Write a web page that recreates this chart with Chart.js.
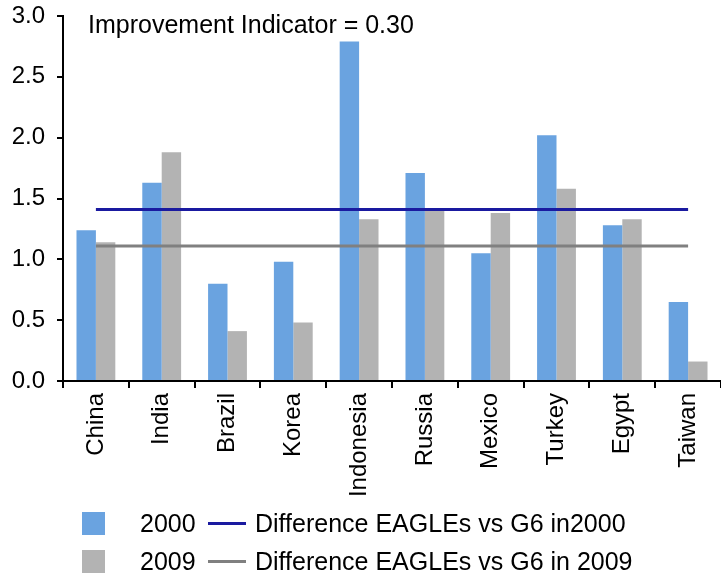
<!DOCTYPE html>
<html>
<head>
<meta charset="utf-8">
<script src="https://cdn.jsdelivr.net/npm/chart.js@4/dist/chart.umd.min.js"></script>
<style>
  body { margin: 0; background: #fff; }
  #wrap { position: relative; width: 721px; height: 575px; font-family: "Liberation Sans", Arial, sans-serif; }
  #wrap canvas { position: absolute; left: 0; top: 0; }
  .leg-row { position: absolute; left: 0; width: 721px; height: 30px; font-size: 25px; color: #000; }
  .leg-box { position: absolute; left: 82px; top: 4px; width: 23px; height: 23px; }
  .leg-year { position: absolute; left: 140px; top: 1px; line-height: 28px; }
  .leg-line { position: absolute; left: 208px; top: 14px; width: 38px; height: 3px; }
  .leg-text { position: absolute; left: 255px; top: 1px; line-height: 28px; white-space: nowrap; }
</style>
</head>
<body>
<div id="wrap">
  <canvas id="gapChart" width="721" height="575"></canvas>
  <div id="legend"></div>
</div>
<script>
// Data

const countries = ["China", "India", "Brazil", "Korea", "Indonesia", "Russia", "Mexico", "Turkey", "Egypt", "Taiwan"];
const values2000 = [1.24, 1.63, 0.80, 0.98, 2.79, 1.71, 1.05, 2.02, 1.28, 0.65];
const values2009 = [1.14, 1.88, 0.41, 0.48, 1.33, 1.41, 1.38, 1.58, 1.33, 0.16];
const gap2000 = [1.41, 1.41, 1.41, 1.41, 1.41, 1.41, 1.41, 1.41, 1.41, 1.41];
const gap2009 = [1.11, 1.11, 1.11, 1.11, 1.11, 1.11, 1.11, 1.11, 1.11, 1.11];
const yTicks = [0, 0.5, 1, 1.5, 2, 2.5, 3];
const noteText = "Improvement Indicator = 0.30";

const blue = "#6aa3e0";
const grey = "#b3b3b3";
const blueLine = "#1a1aa0";
const greyLine = "#808080";
const font = "'Liberation Sans', Arial, sans-serif";

Chart.defaults.font.family = font;
Chart.defaults.color = "#000";

// Text in the top left of the plot
const notePlugin = {
  id: "note",
  afterDraw(chart) {
    const { ctx, chartArea } = chart;
    ctx.save();
    ctx.font = "25px " + font;
    ctx.fillStyle = "#000";
    ctx.textBaseline = "middle";
    ctx.fillText(noteText, chartArea.left + 25, chartArea.top + 10);
    ctx.restore();
  },
};

const ctx = document.getElementById("gapChart");

const gapChart = new Chart(ctx, {
  type: "bar",
  data: {
    labels: countries,
    datasets: [
      { label: "2000", data: values2000, backgroundColor: blue, order: 1,
        categoryPercentage: 0.59, barPercentage: 1 },
      { label: "2009", data: values2009, backgroundColor: grey, order: 1,
        categoryPercentage: 0.59, barPercentage: 1 },
      { type: "line", label: "Difference EAGLEs vs G6 in2000", data: gap2000,
        borderColor: blueLine, backgroundColor: blueLine, borderWidth: 3, pointRadius: 0, order: 0 },
      { type: "line", label: "Difference EAGLEs vs G6 in 2009", data: gap2009,
        borderColor: greyLine, backgroundColor: greyLine, borderWidth: 3, pointRadius: 0, order: 0 },
    ],
  },
  options: {
    responsive: false,
    animation: false,
    layout: { padding: { top: 16, right: 0, bottom: 0, left: 0 } },
    plugins: {
      legend: { display: false },
      tooltip: { enabled: false },
    },
    scales: {
      x: {
        grid: { offset: true, drawOnChartArea: false, tickLength: 7, color: "#000", lineWidth: 2 },
        border: { color: "#000", width: 2 },
        ticks: { minRotation: 90, maxRotation: 90, autoSkip: false, padding: 5, font: { size: 24 } },
        afterFit(scale) {
          scale.height = 194;
          scale.paddingLeft = 0;
          scale.paddingRight = 0;
        },
      },
      y: {
        min: 0,
        max: 3,
        afterBuildTicks(scale) {
          scale.ticks = yTicks.map((v) => ({ value: v }));
        },
        ticks: { padding: 12, font: { size: 24 }, callback: (v) => Number(v).toFixed(1) },
        grid: { drawOnChartArea: false, tickLength: 6, color: "#000", lineWidth: 2 },
        border: { color: "#000", width: 2 },
        afterFit(scale) {
          scale.width = 63;
          scale.paddingTop = 0;
          scale.paddingBottom = 0;
        },
      },
    },
  },
  plugins: [notePlugin],
});

// Legend in two rows: bar + line for each year
const legend = document.getElementById("legend");
const rowTops = [508, 546];
[0, 1].forEach((i) => {
  const bar = gapChart.data.datasets[i];
  const line = gapChart.data.datasets[i + 2];
  const row = document.createElement("div");
  row.className = "leg-row";
  row.style.top = rowTops[i] + "px";
  row.innerHTML = `
    <div class="leg-box" style="background:${bar.backgroundColor}"></div>
    <div class="leg-year">${bar.label}</div>
    <div class="leg-line" style="background:${line.borderColor}"></div>
    <div class="leg-text">${line.label}</div>
  `;
  legend.appendChild(row);
});
</script>
</body>
</html>
